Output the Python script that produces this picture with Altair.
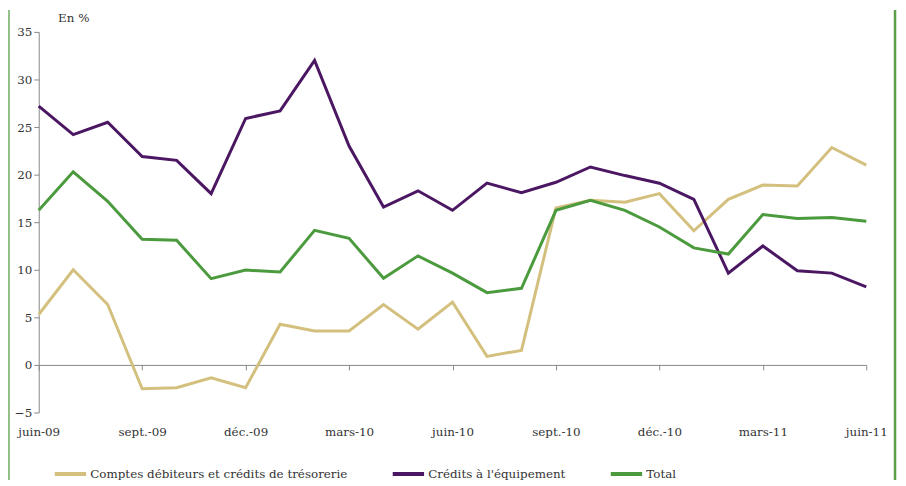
import altair as alt
import pandas as pd

mois = ["juin-09", "juil.-09", "août-09", "sept.-09", "oct.-09", "nov.-09", "déc.-09",
        "janv.-10", "févr.-10", "mars-10", "avr.-10", "mai-10", "juin-10", "juil.-10",
        "août-10", "sept.-10", "oct.-10", "nov.-10", "déc.-10", "janv.-11", "févr.-11",
        "mars-11", "avr.-11", "mai-11", "juin-11"]

comptes = [5.3, 10.0, 6.35, -2.5, -2.4, -1.35, -2.4, 4.27, 3.57, 3.57, 6.35, 3.75, 6.6,
           0.9, 1.53, 16.5, 17.3, 17.1, 18.0, 14.1, 17.4, 18.9, 18.8, 22.85, 21.0]
equipement = [27.2, 24.2, 25.5, 21.9, 21.5, 18.0, 25.9, 26.7, 32.0, 23.0, 16.6, 18.3, 16.25,
              19.1, 18.1, 19.2, 20.8, 19.9, 19.1, 17.4, 9.65, 12.5, 9.9, 9.65, 8.2]
total = [16.25, 20.3, 17.2, 13.2, 13.1, 9.06, 9.97, 9.76, 14.15, 13.3, 9.1, 11.46, 9.65,
         7.6, 8.05, 16.25, 17.3, 16.25, 14.5, 12.3, 11.65, 15.8, 15.4, 15.5, 15.1]

series = ["Comptes débiteurs et crédits de trésorerie", "Crédits à l'équipement", "Total"]
couleurs = ["#D4C07E", "#4B1762", "#4C9A3E"]
tick_mois = mois[::3]

df = pd.DataFrame({"mois": mois, series[0]: comptes, series[1]: equipement, series[2]: total})
long = df.melt(id_vars="mois", var_name="serie", value_name="valeur")
long["ordre"] = long["serie"].map({s: i for i, s in enumerate(series)})

FONT = "DejaVu Serif"

lines = alt.Chart(long).mark_line(strokeWidth=3).encode(
    x=alt.X("mois:N", sort=mois,
            scale=alt.Scale(type="point", padding=0),
            axis=alt.Axis(title=None, values=tick_mois, labelAngle=0, offset=-48,
                          domainColor="#888888", tickColor="#888888", tickSize=5,
                          labelPadding=57, labelFont=FONT, labelFontSize=12,
                          labelColor="#333333", grid=False)),
    y=alt.Y("valeur:Q",
            scale=alt.Scale(domain=[-5, 35], nice=False, zero=False),
            axis=alt.Axis(title="En %", titleAngle=0, titleAlign="left", titleBaseline="middle",
                          titleX=19, titleY=-14, titleFont=FONT, titleFontSize=12,
                          titleFontWeight="normal", titleColor="#333333",
                          values=list(range(-5, 36, 5)), domainColor="#888888",
                          tickColor="#888888", tickSize=5, labelPadding=2,
                          labelFont=FONT, labelFontSize=12, labelColor="#333333", grid=False)),
    color=alt.Color("serie:N", sort=series,
                    scale=alt.Scale(domain=series, range=couleurs),
                    legend=alt.Legend(title=None, orient="none", direction="horizontal",
                                      legendX=14, legendY=428, symbolType="stroke",
                                      symbolStrokeWidth=4, symbolSize=1000,
                                      labelFont=FONT, labelFontSize=12, labelColor="#333333",
                                      labelLimit=400, labelOffset=2, columnPadding=37)),
    order="ordre:Q",
)

bord_gauche = alt.Chart(pd.DataFrame({"k": [0]})).mark_rule(color="#5A9E48", strokeWidth=1.3).encode(
    x=alt.value(-30), y=alt.value(-22), y2=alt.value(460))
bord_droit = alt.Chart(pd.DataFrame({"k": [0]})).mark_rule(color="#5A9E48", strokeWidth=2.5).encode(
    x=alt.value(864), y=alt.value(-22), y2=alt.value(460))

chart = alt.layer(lines, bord_gauche, bord_droit).properties(
    width=835, height=384,
    autosize=alt.AutoSizeParams(type="none"),
    padding={"left": 31, "top": 22, "right": 32, "bottom": 66},
).configure_view(stroke=None)

chart.save("out.html", embed_options={"renderer": "svg", "actions": False})
